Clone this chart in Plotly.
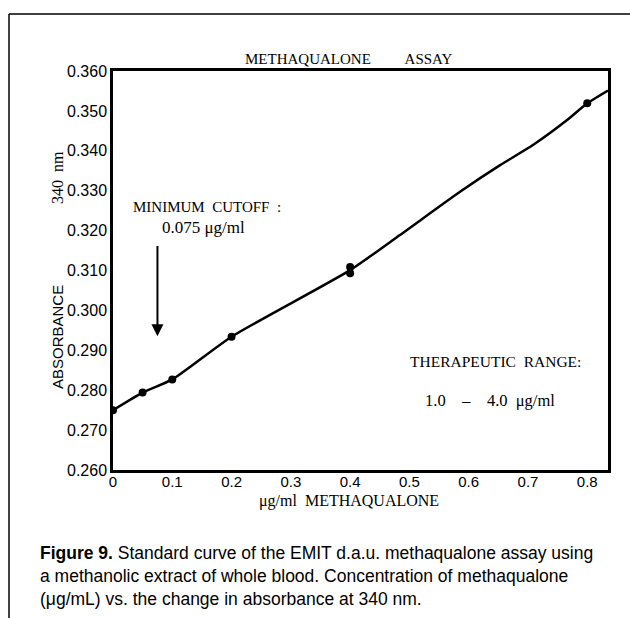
import plotly.graph_objects as go

# Measured standard points (μg/ml, absorbance)
conc = [0, 0.05, 0.1, 0.2, 0.4, 0.4, 0.8]
absorb = [0.2750, 0.2794, 0.2827, 0.2934, 0.3109, 0.3093, 0.3519]

# Drawn standard curve
curve_x = [0, 0.05, 0.1, 0.2, 0.4, 0.484, 0.586, 0.653, 0.709, 0.766, 0.8, 0.835]
curve_y = [0.2750, 0.2794, 0.2827, 0.2934, 0.3101, 0.3189, 0.3298, 0.3364, 0.3415, 0.3477, 0.3519, 0.3551]

x_ticks = [0, 0.1, 0.2, 0.3, 0.4, 0.5, 0.6, 0.7, 0.8]
x_labels = ["0", "0.1", "0.2", "0.3", "0.4", "0.5", "0.6", "0.7", "0.8"]
y_ticks = [0.26, 0.27, 0.28, 0.29, 0.30, 0.31, 0.32, 0.33, 0.34, 0.35, 0.36]
y_labels = ["0.260", "0.270", "0.280", "0.290", "0.300", "0.310", "0.320",
            "0.330", "0.340", "0.350", "0.360"]

SERIF = "Liberation Serif, DejaVu Serif, serif"
SANS = "Liberation Sans, Arial, sans-serif"

fig = go.Figure()
fig.add_trace(go.Scatter(x=curve_x, y=curve_y, mode="lines",
                         line=dict(color="black", width=2.5, shape="spline", smoothing=0.6),
                         hoverinfo="skip", showlegend=False))
fig.add_trace(go.Scatter(x=conc, y=absorb, mode="markers",
                         marker=dict(color="black", size=8, symbol="circle"),
                         showlegend=False))

axis_common = dict(showline=True, linecolor="black", linewidth=2.5, mirror=True,
                   showgrid=False, zeroline=False, ticks="")

fig.update_layout(
    width=630, height=618,
    margin=dict(l=113, r=22, t=71, b=148),
    paper_bgcolor="white", plot_bgcolor="white",
    xaxis=dict(range=[0, 0.835], tickvals=x_ticks, ticktext=x_labels,
               tickfont=dict(family=SANS, size=15, color="black"),
               ticklabelstandoff=-4, **axis_common),
    yaxis=dict(range=[0.26, 0.36], tickvals=y_ticks, ticktext=y_labels,
               tickfont=dict(family=SANS, size=16, color="black"), **axis_common),
)

px = lambda v: (v - 113) / 495
py = lambda v: (470 - v) / 399

def label(text, x, y, size, family=SERIF, angle=0):
    return dict(text=text, xref="paper", yref="paper", x=px(x), y=py(y),
                showarrow=False, textangle=angle,
                font=dict(family=family, size=size, color="black"),
                xanchor="center", yanchor="middle")

nb = "&nbsp;"
ann = [
    label("METHAQUALONE" + nb * 9 + "ASSAY", 349, 59, 15),
    label("μg/ml" + nb * 2 + "METHAQUALONE", 349, 501, 16),
    label("ABSORBANCE", 57, 337, 15, family=SANS, angle=-90),
    label("340" + nb * 2 + "nm", 57, 178, 16, angle=-90),
    label("MINIMUM" + nb * 2 + "CUTOFF" + nb * 2 + ":", 207, 207, 15),
    label("0.075" + nb + "μg/ml", 203, 227, 17),
    label("THERAPEUTIC" + nb * 2 + "RANGE:", 495, 361, 15.5),
    label("1.0" + nb * 4 + "–" + nb * 4 + "4.0" + nb * 2 + "μg/ml", 490, 400, 16.5),
]
ann.append(dict(x=0.075, y=0.2935, ax=0.075, ay=0.3165, xref="x", yref="y",
                axref="x", ayref="y", text="", showarrow=True, arrowhead=2,
                arrowsize=1.2, arrowwidth=2, arrowcolor="black"))
caption = ("<b>Figure 9.</b> Standard curve of the EMIT d.a.u. methaqualone assay using<br>"
           "a methanolic extract of whole blood. Concentration of methaqualone<br>"
           "(μg/mL) vs. the change in absorbance at 340 nm.")
ann.append(dict(text=caption, xref="paper", yref="paper",
                x=px(38), y=py(541), showarrow=False, align="left",
                font=dict(family=SANS, size=17.5, color="black"),
                xanchor="left", yanchor="top"))
fig.update_layout(annotations=ann)

# page border lines (top and left)
fig.add_shape(type="line", xref="paper", yref="paper", x0=px(9), x1=px(630), y0=py(14), y1=py(14),
              line=dict(color="black", width=1.5))
fig.add_shape(type="line", xref="paper", yref="paper", x0=px(9), x1=px(9), y0=py(14), y1=py(618),
              line=dict(color="black", width=1.5))

fig.write_html("out.html", config={"displayModeBar": False},
               post_script="document.body.style.margin='0';")
